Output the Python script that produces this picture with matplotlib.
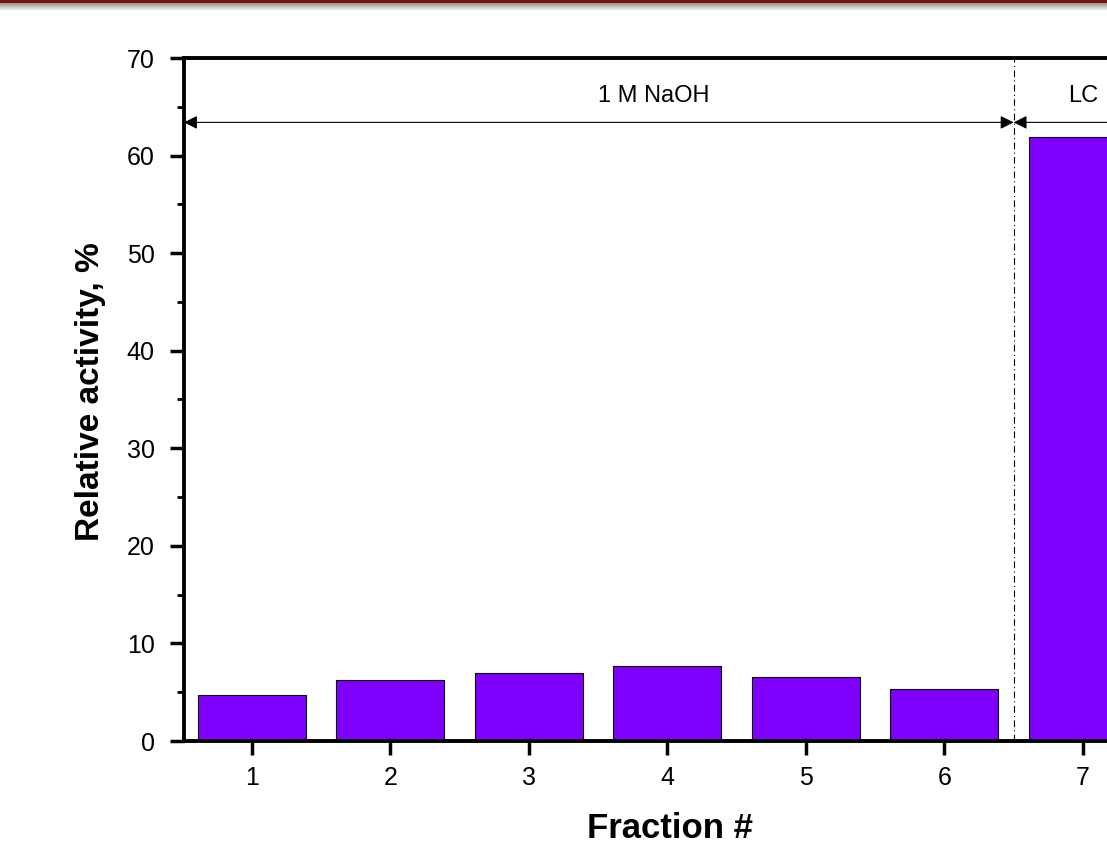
import numpy as np
import matplotlib.pyplot as plt
from matplotlib.ticker import MultipleLocator

plt.rcParams['font.family'] = ['Liberation Sans', 'DejaVu Sans']

# ---- data ----
fractions = [1, 2, 3, 4, 5, 6, 7]
activity = [4.7, 6.25, 6.95, 7.7, 6.6, 5.35, 61.9]
region_labels = ["1 M NaOH", "LC"]
region_bounds = [0.51, 6.5, 8.5]   # span of each eluent region on the x axis
region_label_x = [3.9, 7.0]

W, H = 1107, 846
fig = plt.figure(figsize=(W / 100, H / 100), dpi=100)

# slide header stripe (dark red line with a soft grey shadow)
fig.add_artist(plt.Rectangle((0, 1 - 3 / H), 1, 3 / H, transform=fig.transFigure,
                             color="#7a1010", lw=0))
for i, g in enumerate(np.linspace(0.6, 0.97, 8)):
    fig.add_artist(plt.Rectangle((0, 1 - (4 + i) / H), 1, 1 / H,
                                 transform=fig.transFigure, color=str(g), lw=0))

# axes run off the right edge of the picture, as in the cropped original
ax_w = 7.99 * 138.5
ax = fig.add_axes([184 / W, 105 / H, ax_w / W, 683 / H])
ax.bar(fractions, activity, width=0.78, color="#7f00ff", edgecolor="black",
       linewidth=0.8, zorder=2)

ax.set_xlim(region_bounds[0], region_bounds[-1])
ax.set_ylim(0, 70)
ax.yaxis.set_major_locator(MultipleLocator(10))
ax.yaxis.set_minor_locator(MultipleLocator(5))
ax.set_xticks(fractions)
ax.tick_params(axis="both", which="major", direction="out", length=10, width=2.5,
               labelsize=18)
ax.tick_params(axis="y", which="major", pad=11)
ax.tick_params(axis="x", which="major", pad=8)
ax.tick_params(axis="y", which="minor", direction="out", length=5, width=2)
ax.tick_params(top=False, right=False)
for side in ("left", "bottom", "top"):
    ax.spines[side].set_linewidth(2.8)
ax.spines["right"].set_visible(False)

ax.set_ylabel("Relative activity, %", fontsize=24, fontweight="bold")
ax.yaxis.set_label_coords(-(184 - 106) / ax_w, 0.511)
ax.set_xlabel("Fraction #", fontsize=25, fontweight="bold", va="top")
ax.xaxis.set_label_coords((670 - 184) / ax_w, -71 / 683)

# region separator and double-headed arrows
ax.axvline(region_bounds[1], color="black", lw=0.8, ls=(0, (6, 3, 1, 3)), zorder=1)
arrow_y = 63.4
for k, lab in enumerate(region_labels):
    ax.annotate("", xy=(region_bounds[k], arrow_y), xytext=(region_bounds[k + 1], arrow_y),
                arrowprops=dict(arrowstyle="<|-|>", color="black", lw=0.8,
                                mutation_scale=20, shrinkA=0, shrinkB=0))
    ax.text(region_label_x[k], 66.1, lab, ha="center", va="center", fontsize=17)

fig.savefig("out.png", dpi=100)
